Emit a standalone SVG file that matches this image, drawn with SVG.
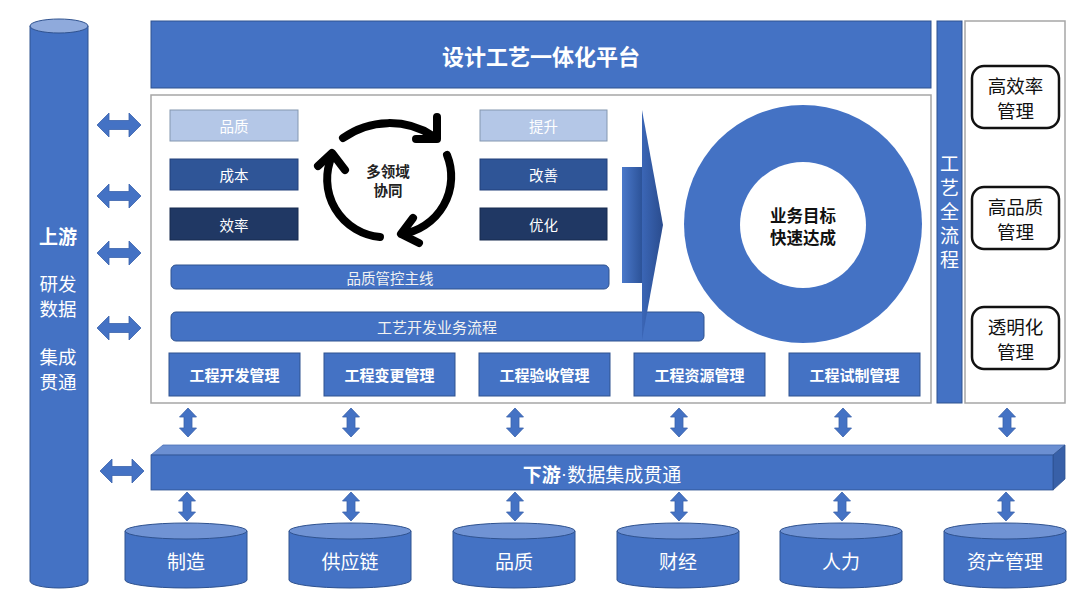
<svg xmlns="http://www.w3.org/2000/svg" xmlns:xlink="http://www.w3.org/1999/xlink" width="1080" height="608" viewBox="0 0 1080 608">
<style>
.t{font-family:"Noto Sans CJK SC","Noto Sans",sans-serif;text-anchor:middle;dominant-baseline:central}
.w{fill:#ffffff}
.k{fill:#111111}
.b{font-weight:bold}
.blue{fill:#4472C4;stroke:#2F528F;stroke-width:1}
.frame{fill:#ffffff;stroke:#A6A6A6;stroke-width:1.5}
.rbox{fill:#ffffff;stroke:#111111;stroke-width:2.5}
.cyc{fill:none;stroke:#000000;stroke-width:8;stroke-linecap:round;stroke-linejoin:round}
.arr{fill:#4472C4;stroke:#3A62AC;stroke-width:0.8}
</style>
<defs>
<path id="hd" d="M-22,0 L-10,-12 L-10,-4.5 L10,-4.5 L10,-12 L22,0 L10,12 L10,4.5 L-10,4.5 L-10,12 Z"/>
<path id="vd" d="M0,-14.5 L8.5,-5.5 L4,-5.5 L4,5.5 L8.5,5.5 L0,14.5 L-8.5,5.5 L-4,5.5 L-4,-5.5 L-8.5,-5.5 Z"/>
<linearGradient id="ga" x1="0" y1="0" x2="1" y2="0">
<stop offset="0" stop-color="#4A78CA"/>
<stop offset="1" stop-color="#2B5196"/>
</linearGradient>
<linearGradient id="gh" x1="0" y1="0" x2="1" y2="0">
<stop offset="0" stop-color="#3B66B6"/>
<stop offset="1" stop-color="#2A4C8E"/>
</linearGradient>
</defs>
<rect width="1080" height="608" fill="#ffffff"/>

<!-- left tall cylinder -->
<g id="upstream">
<path d="M30,26 L30,581 A29,7 0 0 0 88,581 L88,26 Z" class="blue"/>
<ellipse cx="59" cy="26" rx="29" ry="7" fill="#8FAADC" stroke="#2F528F" stroke-width="1"/>
<text x="58" y="235" class="t w b" font-size="19">上游</text>
<text class="t w" font-size="18.5"><tspan x="58" y="282.5">研发</tspan><tspan x="58" y="307.5">数据</tspan></text>
<text class="t w" font-size="18.5"><tspan x="58" y="355.5">集成</tspan><tspan x="58" y="380.5">贯通</tspan></text>
</g>

<!-- top platform bar -->
<g id="platform">
<rect x="151" y="21" width="780" height="67" class="blue"/>
<text x="541" y="55" class="t w b" font-size="22">设计工艺一体化平台</text>
</g>

<!-- main frame -->
<g id="mainframe">
<rect x="151" y="95" width="780" height="308" class="frame"/>
</g>

<!-- left small boxes -->
<g id="box-quality">
<rect x="170" y="110" width="128" height="31" fill="#B4C7E7" stroke="#8497B0" stroke-width="1"/>
<text x="234" y="125.5" class="t w" font-size="14.5">品质</text>
</g>
<g id="box-cost">
<rect x="170" y="159" width="128" height="31" fill="#2F5597" stroke="#22407A" stroke-width="1"/>
<text x="234" y="174.5" class="t w" font-size="14.5">成本</text>
</g>
<g id="box-eff">
<rect x="170" y="208" width="128" height="32" fill="#203864" stroke="#172A4E" stroke-width="1"/>
<text x="234" y="224" class="t w" font-size="14.5">效率</text>
</g>

<!-- right small boxes -->
<g id="box-up">
<rect x="480" y="110" width="127" height="31" fill="#B4C7E7" stroke="#8497B0" stroke-width="1"/>
<text x="543.5" y="125.5" class="t w" font-size="14.5">提升</text>
</g>
<g id="box-improve">
<rect x="480" y="159" width="127" height="31" fill="#2F5597" stroke="#22407A" stroke-width="1"/>
<text x="543.5" y="174.5" class="t w" font-size="14.5">改善</text>
</g>
<g id="box-opt">
<rect x="480" y="208" width="127" height="32" fill="#203864" stroke="#172A4E" stroke-width="1"/>
<text x="543.5" y="224" class="t w" font-size="14.5">优化</text>
</g>

<!-- cycle -->
<g id="cycle">
<path class="cyc" d="M343,138 A80,80 0 0 1 433,136"/>
<path class="cyc" d="M416,139 L437,139 L437,117"/>
<path class="cyc" d="M447,155 A58,58 0 0 1 402,234"/>
<path class="cyc" d="M413,218 L401,234 L419,243"/>
<path class="cyc" d="M380,237 A58,58 0 0 1 332,156"/>
<path class="cyc" d="M318,166 L332,153 L345,170"/>
<text class="t b" fill="#222222" font-size="14.5"><tspan x="388" y="170">多领域</tspan><tspan x="388" y="189">协同</tspan></text>
</g>

<!-- bars -->
<g id="bar-quality">
<rect x="171" y="265" width="438" height="24" rx="5" class="blue"/>
<text x="390" y="277" class="t" fill="#F2F2F2" font-size="14.5">品质管控主线</text>
</g>
<g id="bar-process">
<rect x="171" y="312" width="533" height="29" rx="5" class="blue"/>
<text x="437" y="326.5" class="t" fill="#F2F2F2" font-size="15">工艺开发业务流程</text>
</g>

<!-- big arrow -->
<g id="bigarrow">
<rect x="622" y="167" width="21" height="116" fill="url(#ga)"/>
<polygon points="642,110 663,225 642,340" fill="url(#gh)"/>
</g>

<!-- ring -->
<g id="goal">
<circle cx="803" cy="224" r="119" fill="#4472C4"/>
<circle cx="803" cy="225" r="63" fill="#ffffff"/>
<text class="t k b" font-size="16.5"><tspan x="803" y="215">业务目标</tspan><tspan x="803" y="237">快速达成</tspan></text>
</g>

<!-- bottom management boxes -->
<g id="m1"><rect x="169" y="353" width="131" height="43" class="blue"/><text x="234.5" y="374.5" class="t w b" font-size="15">工程开发管理</text></g>
<g id="m2"><rect x="324" y="353" width="131" height="43" class="blue"/><text x="389.5" y="374.5" class="t w b" font-size="15">工程变更管理</text></g>
<g id="m3"><rect x="479" y="353" width="131" height="43" class="blue"/><text x="544.5" y="374.5" class="t w b" font-size="15">工程验收管理</text></g>
<g id="m4"><rect x="634" y="353" width="131" height="43" class="blue"/><text x="699.5" y="374.5" class="t w b" font-size="15">工程资源管理</text></g>
<g id="m5"><rect x="789" y="353" width="131" height="43" class="blue"/><text x="854.5" y="374.5" class="t w b" font-size="15">工程试制管理</text></g>

<!-- vertical process bar -->
<g id="fullprocess">
<rect x="937" y="21" width="25" height="382" class="blue"/>
<text x="949.5" y="154" writing-mode="tb" letter-spacing="5" font-family="'Noto Sans CJK SC','Noto Sans',sans-serif" font-size="19" fill="#ffffff">工艺全流程</text>
</g>

<!-- right panel -->
<g id="rightpanel">
<rect x="965" y="21" width="100" height="382" class="frame"/>
</g>
<g id="r1">
<rect x="972" y="66" width="87" height="62" rx="12" class="rbox"/>
<text class="t k" font-size="18.5"><tspan x="1015.5" y="84.5">高效率</tspan><tspan x="1015.5" y="109.5">管理</tspan></text>
</g>
<g id="r2">
<rect x="972" y="187" width="87" height="62" rx="12" class="rbox"/>
<text class="t k" font-size="18.5"><tspan x="1015.5" y="205.5">高品质</tspan><tspan x="1015.5" y="230.5">管理</tspan></text>
</g>
<g id="r3">
<rect x="972" y="307" width="87" height="62" rx="12" class="rbox"/>
<text class="t k" font-size="18.5"><tspan x="1015.5" y="325.5">透明化</tspan><tspan x="1015.5" y="350.5">管理</tspan></text>
</g>

<!-- downstream 3D bar -->
<g id="downstream">
<polygon points="151,455 163,445 1065,445 1053,455" fill="#6B8FD2" stroke="#4A6FB5" stroke-width="0.8"/>
<polygon points="1053,455 1065,445 1065,479 1053,490" fill="#3860A8" stroke="#2F528F" stroke-width="0.8"/>
<rect x="151" y="455" width="902" height="35" fill="#4472C4" stroke="#2F528F" stroke-width="0.8"/>
<text x="602" y="473" class="t w" font-size="19"><tspan font-weight="bold">下游</tspan><tspan font-family="'Liberation Sans',sans-serif">·</tspan>数据集成贯通</text>
</g>

<!-- bottom cylinders -->
<g id="c1"><path d="M125,531 L125,580 A61,8 0 0 0 247,580 L247,531 Z" class="blue"/><ellipse cx="186" cy="531" rx="61" ry="8" fill="#7093D4" stroke="#2F528F" stroke-width="1"/><text x="186" y="560" class="t w" font-size="19">制造</text></g>
<g id="c2"><path d="M289,531 L289,580 A61,8 0 0 0 411,580 L411,531 Z" class="blue"/><ellipse cx="350" cy="531" rx="61" ry="8" fill="#7093D4" stroke="#2F528F" stroke-width="1"/><text x="350" y="560" class="t w" font-size="19">供应链</text></g>
<g id="c3"><path d="M453,531 L453,580 A61,8 0 0 0 575,580 L575,531 Z" class="blue"/><ellipse cx="514" cy="531" rx="61" ry="8" fill="#7093D4" stroke="#2F528F" stroke-width="1"/><text x="514" y="560" class="t w" font-size="19">品质</text></g>
<g id="c4"><path d="M617,531 L617,580 A61,8 0 0 0 739,580 L739,531 Z" class="blue"/><ellipse cx="678" cy="531" rx="61" ry="8" fill="#7093D4" stroke="#2F528F" stroke-width="1"/><text x="678" y="560" class="t w" font-size="19">财经</text></g>
<g id="c5"><path d="M780,531 L780,580 A61,8 0 0 0 902,580 L902,531 Z" class="blue"/><ellipse cx="841" cy="531" rx="61" ry="8" fill="#7093D4" stroke="#2F528F" stroke-width="1"/><text x="841" y="560" class="t w" font-size="19">人力</text></g>
<g id="c6"><path d="M944,531 L944,580 A61,8 0 0 0 1066,580 L1066,531 Z" class="blue"/><ellipse cx="1005" cy="531" rx="61" ry="8" fill="#7093D4" stroke="#2F528F" stroke-width="1"/><text x="1005" y="560" class="t w" font-size="19">资产管理</text></g>

<!-- connectors -->
<g id="connectors" class="arr">
<use xlink:href="#hd" x="119" y="125"/>
<use xlink:href="#hd" x="119" y="196"/>
<use xlink:href="#hd" x="119" y="253"/>
<use xlink:href="#hd" x="119" y="328"/>
<use xlink:href="#hd" x="122" y="471"/>
<use xlink:href="#vd" x="188" y="422.5"/>
<use xlink:href="#vd" x="351" y="422.5"/>
<use xlink:href="#vd" x="515" y="422.5"/>
<use xlink:href="#vd" x="679" y="422.5"/>
<use xlink:href="#vd" x="843" y="422.5"/>
<use xlink:href="#vd" x="1007" y="422.5"/>
<use xlink:href="#vd" x="187" y="506.5"/>
<use xlink:href="#vd" x="351" y="506.5"/>
<use xlink:href="#vd" x="515" y="506.5"/>
<use xlink:href="#vd" x="679" y="506.5"/>
<use xlink:href="#vd" x="842" y="506.5"/>
<use xlink:href="#vd" x="1006" y="506.5"/>
</g>
</svg>
